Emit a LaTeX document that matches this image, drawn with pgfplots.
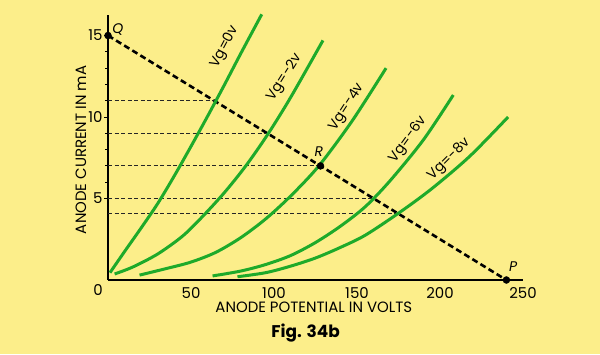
\documentclass[border=0pt]{standalone}
\usepackage{pgfplots}
\pgfplotsset{compat=1.18}
\usepackage{fontspec}
\setmainfont{Poppins}
\definecolor{bg}{HTML}{FCEE8A}
\definecolor{gr}{HTML}{1EAA2A}
\begin{document}
\begin{tikzpicture}[x=1bp,y=1bp]
\fill[bg] (-108,-74) rectangle (492,280);
\begin{axis}[
  at={(0,0)}, anchor=south west,
  scale only axis, width=415bp, height=265bp,
  xmin=0, xmax=250, ymin=0, ymax=16.26,
  axis x line=bottom, axis y line=left,
  axis line style={line width=2.6bp, -, black},
  xtick={50,100,150,200,250}, ytick={5,10,15},
  minor y tick num=4,
  tick align=outside,
  major tick length=4bp, minor tick length=3bp,
  x tick style={draw=none},
  tick style={line width=1bp, black},
  ticklabel style={font=\fontsize{15}{15}\selectfont},
  yticklabel style={xshift=2bp},
  /pgf/number format/assume math mode=true,
  clip=false,
]
% load line
\addplot[black, line width=2.6bp, dash pattern=on 6bp off 3.5bp] coordinates {(0,15) (240,0)};
% horizontal dashed lines
\addplot[black!85, line width=1.1bp, dash pattern=on 4bp off 2.5bp] coordinates {(0,11) (64,11)};
\addplot[black!85, line width=1.1bp, dash pattern=on 4bp off 2.5bp] coordinates {(0,9) (96,9)};
\addplot[black!85, line width=1.1bp, dash pattern=on 4bp off 2.5bp] coordinates {(0,7) (128,7)};
\addplot[black!85, line width=1.1bp, dash pattern=on 4bp off 2.5bp] coordinates {(0,5) (160,5)};
\addplot[black!85, line width=1.1bp, dash pattern=on 4bp off 2.5bp] coordinates {(0,4.1) (174.4,4.1)};
% characteristic curves
\addplot[gr, line width=3bp, smooth] coordinates {(1.2,0.45) (10,1.75) (20,3.2) (30,4.7) (40,6.4) (50,8.2) (60,10.05) (70,11.95) (80,13.9) (92.6,16.3)};
\addplot[gr, line width=3bp, smooth] coordinates {(4,0.37) (15,0.8) (30,1.6) (45,2.7) (57,3.9) (70,5.35) (83,7.0) (96,8.9) (110,11.2) (129.5,14.7)};
\addplot[gr, line width=3bp, smooth] coordinates {(19,0.3) (35,0.7) (50,1.1) (65,1.7) (80,2.6) (95,3.75) (110,5.15) (127,7.0) (147,9.75) (167.5,13.0)};
\addplot[gr, line width=3bp, smooth] coordinates {(63,0.25) (80,0.55) (95,0.95) (110,1.5) (125,2.3) (140,3.3) (155,4.5) (170,6.1) (190,8.6) (208,11.35)};
\addplot[gr, line width=3bp, smooth] coordinates {(78,0.2) (95,0.45) (110,0.85) (125,1.35) (140,2.0) (155,2.75) (175,4.1) (195,5.6) (218,7.6) (241,10.0)};
% points
\addplot[only marks, mark=*, mark size=3.5bp, black] coordinates {(0,15) (128,7) (240,0)};
% labels
\node[font=\fontsize{14}{14}\selectfont, rotate=62] at (axis cs:70.5,14.3) {Vg=0v};
\node[font=\fontsize{14}{14}\selectfont, rotate=58] at (axis cs:106.6,12.45) {Vg=-2v};
\node[font=\fontsize{14}{14}\selectfont, rotate=57] at (axis cs:144,10.6) {Vg=-4v};
\node[font=\fontsize{14}{14}\selectfont, rotate=54] at (axis cs:180.7,8.6) {Vg=-6v};
\node[font=\fontsize{14}{14}\selectfont, rotate=45] at (axis cs:205.4,7.4) {Vg=-8v};
\node[font=\fontsize{14}{14}\selectfont\itshape] at (axis cs:6,15.35) {Q};
\node[font=\fontsize{14}{14}\selectfont\itshape] at (axis cs:127,7.85) {R};
\node[font=\fontsize{14}{14}\selectfont\itshape] at (axis cs:244,0.8) {P};
\node[font=\fontsize{15}{15}\selectfont] at (axis cs:-6,-0.6) {0};
\node[font=\fontsize{15}{15}\selectfont, rotate=90] at (axis cs:-16.3,7.98) {ANODE CURRENT IN mA};
\node[font=\fontsize{15}{15}\selectfont] at (axis cs:124,-1.66) {ANODE POTENTIAL IN VOLTS};
\node[font=\fontsize{17}{17}\selectfont\bfseries] at (axis cs:119,-3.25) {Fig. 34b};
\end{axis}
\pgfresetboundingbox
\useasboundingbox (-108,-74) rectangle (492,280);
\end{tikzpicture}
\end{document}
